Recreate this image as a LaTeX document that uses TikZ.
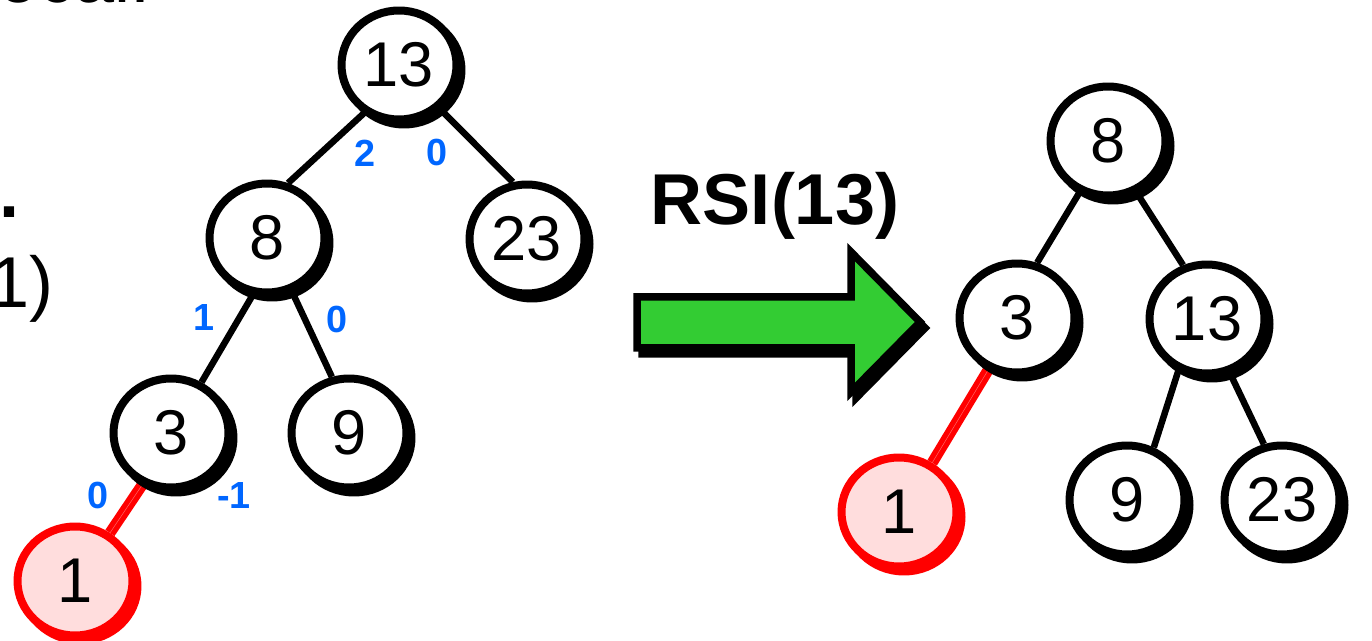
\documentclass[tikz,border=0pt]{standalone}
\usepackage{fontspec}
\setmainfont{Liberation Sans}
\usetikzlibrary{shapes.geometric,shadows,backgrounds}
\definecolor{lblblue}{RGB}{0,102,255}
\definecolor{arrgreen}{RGB}{51,204,51}
\definecolor{pinkfill}{RGB}{255,221,221}
\newcommand\ndtxt[1]{\lower0.08cm\hbox{#1}}
\begin{document}
\begin{tikzpicture}[x=0.02cm,y=-0.02cm,
  nodebase/.style={ellipse, draw=black, fill=white, line width=0.16cm,
    minimum width=2.3cm, minimum height=2.18cm, inner sep=0pt,
    font=\fontsize{36}{40}\selectfont},
  treenode/.style={nodebase, drop shadow={shadow xshift=0.1cm, shadow yshift=-0.1cm,
    opacity=1, fill=black, draw=black, line width=0.16cm}},
  rednode/.style={nodebase, draw=red, fill=pinkfill, drop shadow={shadow xshift=0.1cm,
    shadow yshift=-0.1cm, opacity=1, fill=red, draw=red, line width=0.16cm}},
  treeedge/.style={draw=black, line width=0.13cm},
  redge/.style={draw=red, line width=0.22cm},
  redmid/.style={draw=red!60!white, line width=0.01cm},
  bal/.style={text=lblblue, inner sep=0pt, font=\bfseries\fontsize{21.5}{24}\selectfont},
  frag/.style={inner sep=0pt, anchor=base east, font=\fontsize{41}{48}\selectfont},
  arrowshape/.style={line width=0.15cm, line join=miter}
]
\useasboundingbox (0,0) rectangle (1372,641);

% fragments of cut-off text at the left edge
\node[frag] (t0) at (151,3) {ocal.};
\node[frag, font=\bfseries\fontsize{41}{48}\selectfont] (t2) at (20,218) {.};
\node[frag] (t1) at (54,308) {1)};

% left tree
\node[treenode] (L13) at (399,65) {\ndtxt{13}};
\node[treenode] (L8) at (267,238) {\ndtxt{8}};
\node[treenode] (L23) at (527,239) {\ndtxt{23}};
\node[treenode] (L3) at (171,433) {\ndtxt{3}};
\node[treenode] (L9) at (349,433) {\ndtxt{9}};
\node[rednode] (L1) at (75,581) {\ndtxt{1}};

% right tree
\node[treenode] (R8) at (1108,141) {\ndtxt{8}};
\node[treenode] (R3) at (1017,318) {\ndtxt{3}};
\node[treenode] (R13) at (1207,319) {\ndtxt{13}};
\node[rednode] (R1) at (899,512) {\ndtxt{1}};
\node[treenode] (R9) at (1127,500) {\ndtxt{9}};
\node[treenode] (R23) at (1282,500) {\ndtxt{23}};

\begin{scope}[on background layer]
  \draw[treeedge] (L13.234) -- (L8.69);
  \draw[treeedge] (L13.313) -- (L23.104);
  \draw[treeedge] (L8.256) -- (L3.59);
  \draw[treeedge] (L8.295) -- (L9.107);
  \draw[redge] (L3.241) -- (L1.54);
  \draw[redmid] (L3.241) -- (L1.54);
  \draw[treeedge] (R8.241) -- (R3.70);
  \draw[treeedge] (R8.299) -- (R13.114);
  \draw[redge] (R3.241) -- (R1.56);
  \draw[redmid] (R3.241) -- (R1.56);
  \draw[treeedge] (R13.241) -- (R9.63);
  \draw[treeedge] (R13.293) -- (R23.108);
\end{scope}

% balance factors
\node[bal] (b13l) at (365,153) {2};
\node[bal] (b13r) at (437,153) {0};
\node[bal] (b8l) at (204,318) {1};
\node[bal] (b8r) at (337,319) {0};
\node[bal] (b3l) at (98,495) {0};
\node[bal] (b3r) at (234,496) {-1};

% rotation label and arrow
\node[inner sep=0pt, anchor=base, font=\bfseries\fontsize{41}{48}\selectfont] (rsi) at (775,225) {RSI(13)};
\filldraw[arrowshape, draw=black, fill=black]
  (642,303) -- (856,303) -- (856,258) -- (925,328) -- (856,398) -- (856,354) -- (642,354) -- cycle;
\filldraw[arrowshape, draw=black, fill=arrgreen]
  (637,297) -- (851,297) -- (851,252) -- (920,322) -- (851,392) -- (851,348) -- (637,348) -- cycle;
\end{tikzpicture}
\end{document}
